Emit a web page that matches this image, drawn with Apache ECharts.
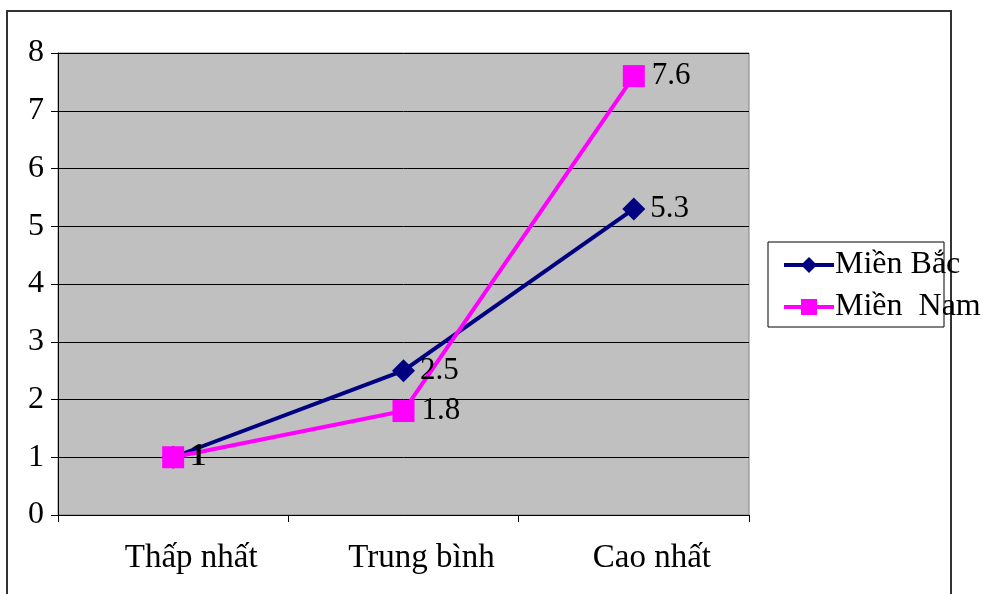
<!DOCTYPE html>
<html>
<head>
<meta charset="utf-8">
<script src="https://cdn.jsdelivr.net/npm/echarts@6/dist/echarts.min.js"></script>
<style>
html,body{margin:0;padding:0;background:#fff;}
#chart{width:985px;height:594px;}
</style>
</head>
<body>
<div id="chart"></div>
<script>
var categories = ['Thấp nhất', 'Trung bình', 'Cao nhất'];
var mienBac = [1, 2.5, 5.3];
var mienNam = [1, 1.8, 7.6];
var seriesNames = ['Miền Bắc', 'Miền  Nam'];

var FONT = '"Liberation Serif", "Times New Roman", serif';
var chart = echarts.init(document.getElementById('chart'), null, {renderer: 'canvas'});
chart.setOption({
  animation: false,
  backgroundColor: '#fff',
  textStyle: {fontFamily: FONT},
  graphic: [
    {type: 'rect', shape: {x: 7, y: 11, width: 944, height: 600},
     style: {fill: 'none', stroke: '#333', lineWidth: 2}, z: -1},
    {type: 'rect', shape: {x: 768, y: 242, width: 176, height: 85},
     style: {fill: '#fff', stroke: '#000', lineWidth: 1}, z: 0}
  ],
  grid: {left: 58, top: 53, right: 236, bottom: 79, show: true,
         backgroundColor: '#C0C0C0', borderColor: '#808080', borderWidth: 1},
  legend: {
    orient: 'vertical', left: 777, top: 244, itemWidth: 50, itemHeight: 20, itemGap: 10,
    z: 10,
    data: seriesNames,
    lineStyle: {width: 4},
    textStyle: {fontFamily: FONT, fontSize: 32, color: '#000', padding: [0,0,0,-4]}
  },
  xAxis: {
    type: 'category', data: categories, boundaryGap: true,
    axisLine: {lineStyle: {color: '#000', width: 1}},
    axisTick: {show: true, length: 7, lineStyle: {color: '#000'}},
    axisLabel: {fontFamily: FONT, fontSize: 33, color: '#000', margin: 27, padding: [0, 0, 0, 36]}
  },
  yAxis: {
    type: 'value', min: 0, max: 8, interval: 1,
    axisLine: {show: true, lineStyle: {color: '#000', width: 1}},
    axisTick: {show: true, length: 7, lineStyle: {color: '#000'}},
    axisLabel: {fontFamily: FONT, fontSize: 32, color: '#000', margin: 14},
    splitLine: {show: true, lineStyle: {color: '#000', width: 1}}
  },
  series: [
    {name: seriesNames[0], type: 'line', data: mienBac,
     color: '#000080', lineStyle: {width: 4, color: '#000080'},
     symbol: 'diamond', symbolSize: 23, itemStyle: {color: '#000080'},
     label: {show: true, position: 'right', distance: 5, fontFamily: FONT, fontSize: 31, color: '#000'}},
    {name: seriesNames[1], type: 'line', data: mienNam,
     color: '#FF00FF', lineStyle: {width: 4, color: '#FF00FF'},
     symbol: 'rect', symbolSize: 22, itemStyle: {color: '#FF00FF'},
     label: {show: true, position: 'right', distance: 7, fontFamily: FONT, fontSize: 31, color: '#000'}}
  ]
});
</script>
</body>
</html>
